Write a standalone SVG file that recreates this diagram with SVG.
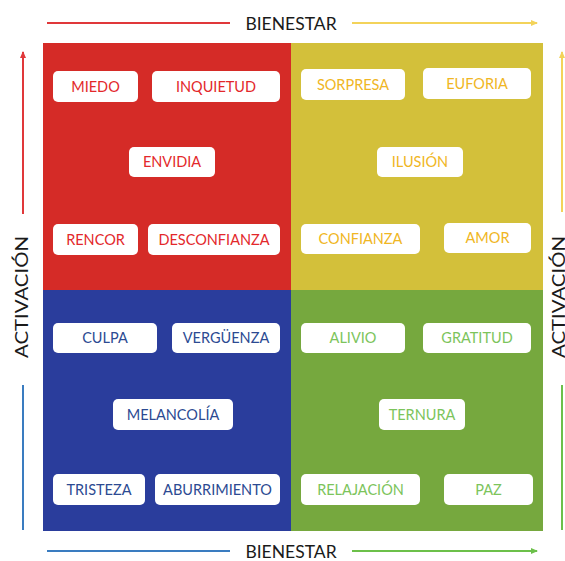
<svg xmlns="http://www.w3.org/2000/svg" width="565" height="561" viewBox="0 0 565 561">
<style>
.box{fill:#ffffff}
.t{font-family:Lato,"Open Sans","Liberation Sans",sans-serif;font-size:14.5px;text-anchor:middle}
.r{fill:#e3282b}.y{fill:#f0b624}.b{fill:#2c4a92}.g{fill:#7cc45b}
.axis{font-family:Lato,"Open Sans","Liberation Sans",sans-serif;font-size:17.5px;fill:#1a1a1a;text-anchor:middle}
.ln{stroke-width:2;fill:none}
</style>
<defs>
<marker id="ay" markerWidth="8" markerHeight="8" refX="6" refY="4" orient="auto" markerUnits="userSpaceOnUse"><path d="M0,1 L7,4 L0,7 Z" fill="#f3d35a"/></marker>
<marker id="ag" markerWidth="8" markerHeight="8" refX="6" refY="4" orient="auto" markerUnits="userSpaceOnUse"><path d="M0,1 L7,4 L0,7 Z" fill="#6cc04a"/></marker>
<marker id="ar" markerWidth="8" markerHeight="8" refX="6" refY="4" orient="auto" markerUnits="userSpaceOnUse"><path d="M0,1 L7,4 L0,7 Z" fill="#e0383a"/></marker>
</defs>
<rect width="565" height="561" fill="#ffffff"/>
<g id="board">
<rect x="43" y="43" width="248" height="247" fill="#d52b27"/>
<rect x="291" y="43" width="252" height="247" fill="#d3c03a"/>
<rect x="43" y="290" width="248" height="241" fill="#2a3d9c"/>
<rect x="291" y="290" width="252" height="241" fill="#76a83e"/>
</g>
<g id="connectors">
<line class="ln" x1="47" y1="23" x2="230" y2="23" stroke="#e0383a"/>
<line class="ln" x1="352" y1="23" x2="537" y2="23" stroke="#f3d35a" marker-end="url(#ay)"/>
<line class="ln" x1="47" y1="551" x2="230" y2="551" stroke="#3a7cc0"/>
<line class="ln" x1="352" y1="551" x2="537" y2="551" stroke="#6cc04a" marker-end="url(#ag)"/>
<line class="ln" x1="23" y1="214" x2="23" y2="52" stroke="#e0383a" marker-end="url(#ar)"/>
<line class="ln" x1="23" y1="530" x2="23" y2="385" stroke="#3a7cc0"/>
<line class="ln" x1="562" y1="212" x2="562" y2="52" stroke="#f3d35a" marker-end="url(#ay)"/>
<line class="ln" x1="562" y1="530" x2="562" y2="385" stroke="#6cc04a"/>
</g>
<g id="axis-labels">
<text class="axis" x="291" y="29.5">BIENESTAR</text>
<text class="axis" x="291" y="558">BIENESTAR</text>
<text class="axis" transform="translate(28,297) rotate(-90)" textLength="122" lengthAdjust="spacingAndGlyphs">ACTIVACIÓN</text>
<text class="axis" transform="translate(565,297) rotate(-90)" textLength="122" lengthAdjust="spacingAndGlyphs">ACTIVACIÓN</text>
</g>
<g id="miedo"><rect class="box" x="53" y="71" width="85" height="31" rx="5"/><text class="t r" x="95.5" y="91.5">MIEDO</text></g>
<g id="inquietud"><rect class="box" x="152" y="71" width="128" height="31" rx="5"/><text class="t r" x="216" y="91.5">INQUIETUD</text></g>
<g id="envidia"><rect class="box" x="129" y="147" width="86" height="30" rx="5"/><text class="t r" x="172" y="167">ENVIDIA</text></g>
<g id="rencor"><rect class="box" x="53" y="224" width="85" height="31" rx="5"/><text class="t r" x="95.5" y="244.5">RENCOR</text></g>
<g id="desconfianza"><rect class="box" x="148" y="224" width="132" height="31" rx="5"/><text class="t r" x="214" y="244.5">DESCONFIANZA</text></g>
<g id="sorpresa"><rect class="box" x="301" y="69" width="104" height="31" rx="5"/><text class="t y" x="353" y="89.5">SORPRESA</text></g>
<g id="euforia"><rect class="box" x="423" y="68" width="108" height="31" rx="5"/><text class="t y" x="477" y="88.5">EUFORIA</text></g>
<g id="ilusion"><rect class="box" x="377" y="147" width="86" height="30" rx="5"/><text class="t y" x="420" y="167">ILUSIÓN</text></g>
<g id="confianza"><rect class="box" x="301" y="224" width="119" height="30" rx="5"/><text class="t y" x="360.5" y="244">CONFIANZA</text></g>
<g id="amor"><rect class="box" x="444" y="223" width="87" height="30" rx="5"/><text class="t y" x="487.5" y="243">AMOR</text></g>
<g id="culpa"><rect class="box" x="53" y="323" width="104" height="30" rx="5"/><text class="t b" x="105" y="343">CULPA</text></g>
<g id="verguenza"><rect class="box" x="172" y="323" width="108" height="30" rx="5"/><text class="t b" x="226" y="343">VERGÜENZA</text></g>
<g id="melancolia"><rect class="box" x="113" y="399" width="120" height="31" rx="5"/><text class="t b" x="173" y="419.5">MELANCOLÍA</text></g>
<g id="tristeza"><rect class="box" x="53" y="474" width="92" height="31" rx="5"/><text class="t b" x="99" y="494.5">TRISTEZA</text></g>
<g id="aburrimiento"><rect class="box" x="155" y="474" width="125" height="31" rx="5"/><text class="t b" x="217.5" y="494.5">ABURRIMIENTO</text></g>
<g id="alivio"><rect class="box" x="301" y="323" width="104" height="30" rx="5"/><text class="t g" x="353" y="343">ALIVIO</text></g>
<g id="gratitud"><rect class="box" x="423" y="323" width="108" height="30" rx="5"/><text class="t g" x="477" y="343">GRATITUD</text></g>
<g id="ternura"><rect class="box" x="379" y="399" width="86" height="31" rx="5"/><text class="t g" x="422" y="419.5">TERNURA</text></g>
<g id="relajacion"><rect class="box" x="301" y="474" width="119" height="31" rx="5"/><text class="t g" x="360.5" y="494.5">RELAJACIÓN</text></g>
<g id="paz"><rect class="box" x="444" y="474" width="89" height="31" rx="5"/><text class="t g" x="488.5" y="494.5">PAZ</text></g>
</svg>
